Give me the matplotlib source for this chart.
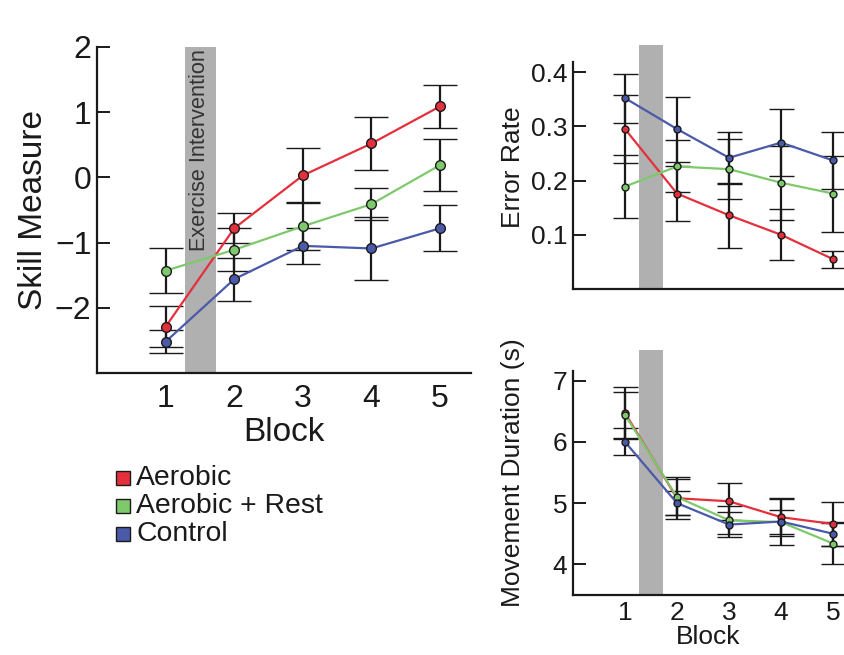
import numpy as np
import matplotlib.pyplot as plt

blocks = [1, 2, 3, 4, 5]
groups = ['Aerobic', 'Aerobic + Rest', 'Control']
colors = ['#e4303c', '#7ec96c', '#4a5aa8']

# skill measure
skill = [[-2.29, -0.78, 0.03, 0.52, 1.09],
         [-1.43, -1.11, -0.75, -0.41, 0.19],
         [-2.52, -1.56, -1.05, -1.09, -0.78]]
skill_err = [[0.31, 0.23, 0.42, 0.41, 0.33],
             [0.35, 0.33, 0.37, 0.24, 0.40],
             [0.18, 0.33, 0.28, 0.48, 0.35]]

# error rate
err_rate = [[0.295, 0.176, 0.136, 0.100, 0.055],
            [0.189, 0.226, 0.221, 0.196, 0.176],
            [0.352, 0.295, 0.242, 0.270, 0.237]]
err_rate_err = [[0.062, 0.050, 0.060, 0.047, 0.016],
                [0.058, 0.048, 0.055, 0.068, 0.070],
                [0.045, 0.060, 0.048, 0.062, 0.053]]

# movement duration
move_dur = [[6.47, 5.08, 5.03, 4.77, 4.66],
            [6.44, 5.10, 4.72, 4.69, 4.34],
            [6.00, 5.00, 4.65, 4.70, 4.50]]
move_dur_err = [[0.42, 0.34, 0.30, 0.30, 0.36],
                [0.38, 0.30, 0.23, 0.20, 0.33],
                [0.22, 0.20, 0.20, 0.38, 0.20]]

plt.rcParams['font.family'] = ['Liberation Sans', 'DejaVu Sans']
txt = '#1a1a1a'

fig = plt.figure(figsize=(8.44, 6.55), dpi=100)
ax1 = fig.add_axes([97/844, 282/655, 374/844, 326/655])
ax2 = fig.add_axes([573/844, 366/655, 271/844, 244/655])
ax3 = fig.add_axes([573/844, 60/655, 271/844, 245/655])


def draw(ax, vals, errs, cap, ms):
    for i in range(3):
        ax.errorbar(blocks, vals[i], yerr=errs[i], color=colors[i], ecolor='#1a1a1a',
                    elinewidth=1.6, capsize=cap, capthick=1.6, lw=1.6, marker='o',
                    ms=ms, mfc=colors[i], mec='#1a1a1a', mew=1.0, zorder=3)


def style(ax, fs, spine_top):
    for s in ['top', 'right']:
        ax.spines[s].set_visible(False)
    for s in ['left', 'bottom']:
        ax.spines[s].set_linewidth(1.6)
        ax.spines[s].set_color('#1a1a1a')
    ax.spines['left'].set_bounds(ax.get_ylim()[0], spine_top)
    ax.tick_params(axis='y', direction='in', length=9, width=1.4, labelsize=fs,
                   colors=txt, pad=4)
    ax.tick_params(axis='x', length=0, labelsize=fs, colors=txt, pad=8)
    ax.set_xticks(blocks)


# left panel
ax1.axvspan(1.28, 1.73, color='#b0b0b0', lw=0, zorder=1)
draw(ax1, skill, skill_err, 12, 7)
ax1.set_xlim(0, 5.45)
ax1.set_ylim(-3, 2)
ax1.set_yticks([-2, -1, 0, 1, 2])
ax1.set_yticklabels(['\u22122', '\u22121', '0', '1', '2'])
style(ax1, 23, 2)
ax1.set_ylabel('Skill Measure', fontsize=24, color=txt, labelpad=4)
ax1.set_xlabel('Block', fontsize=24, color=txt, labelpad=2)
ax1.text(1.5, 1.97, 'Exercise Intervention', rotation=90, ha='center', va='top',
         fontsize=15.6, color='#333333', zorder=2)

# top right panel
ax2.axvspan(1.27, 1.73, color='#b0b0b0', lw=0, zorder=1)
draw(ax2, err_rate, err_rate_err, 9, 5)
ax2.set_xlim(0, 5.21)
ax2.set_ylim(0, 0.45)
ax2.set_yticks([0.1, 0.2, 0.3, 0.4])
style(ax2, 19, 0.418)
ax2.set_xticklabels([])
ax2.set_ylabel('Error Rate', fontsize=19, color=txt, labelpad=4)

# bottom right panel
ax3.axvspan(1.27, 1.73, color='#b0b0b0', lw=0, zorder=1)
draw(ax3, move_dur, move_dur_err, 9, 5)
ax3.set_xlim(0, 5.21)
ax3.set_ylim(3.5, 7.5)
ax3.set_yticks([4, 5, 6, 7])
style(ax3, 19, 7.15)
ax3.tick_params(axis='x', pad=4)
ax3.set_ylabel('Movement Duration (s)', fontsize=19, color=txt, labelpad=20)
ax3.set_xlabel('Block', fontsize=19, color=txt, labelpad=0)

# legend
for i, g in enumerate(groups):
    y = 1 - (478 + i * 28) / 655
    fig.patches.append(plt.Rectangle((116/844, y - 7/655), 14/844, 14/655,
                                     transform=fig.transFigure, facecolor=colors[i],
                                     edgecolor='#1a1a1a', lw=1.0))
    fig.text(136/844, y, g, fontsize=20.4, color=txt, va='center', ha='left')

fig.savefig('out.png', dpi=100)
